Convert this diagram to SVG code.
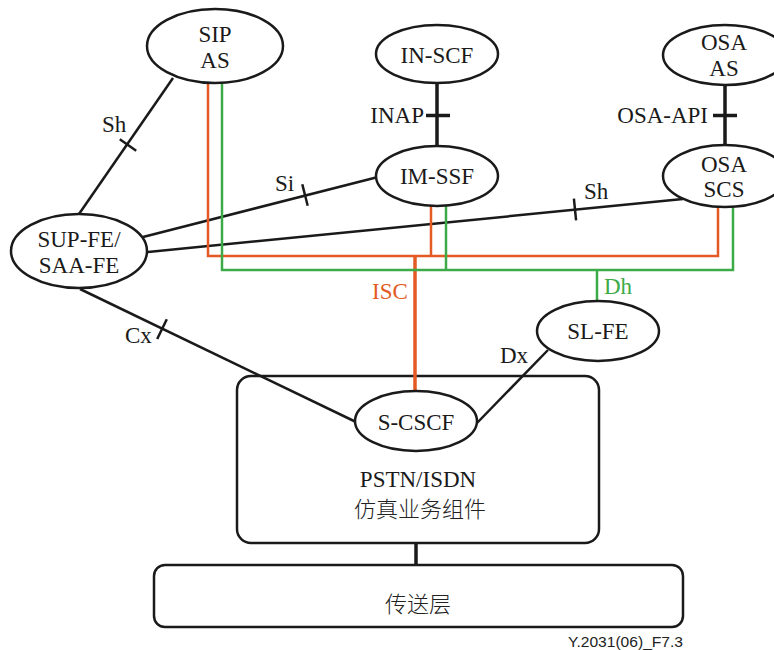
<svg xmlns="http://www.w3.org/2000/svg" width="774" height="650" viewBox="0 0 774 650">
<style>
.n{fill:#fff;stroke:#1a1a1a;stroke-width:2.5}
.b{fill:none;stroke:#1a1a1a;stroke-width:2.5}
.t{font-family:"Liberation Serif","DejaVu Serif","Times New Roman",serif;font-size:23px;fill:#1a1a1a}
.c{text-anchor:middle}
.zh{font-family:"Noto Sans CJK SC","Noto Sans CJK JP",sans-serif;font-size:22px;font-weight:300;fill:#222;text-anchor:middle}
.k{stroke:#1a1a1a;stroke-width:2.5;fill:none}
.kt{stroke:#1a1a1a;stroke-width:3.5;fill:none}
.o{stroke:#E35A25;stroke-width:2.5;fill:none}
.g{stroke:#3DAA48;stroke-width:2.5;fill:none}
</style>
<rect width="774" height="650" fill="#fff"/>
<g id="pstn-box">
  <rect class="b" x="237" y="376" width="362" height="167" rx="14"/>
  <text class="t c" x="418" y="487">PSTN/ISDN</text>
  <text class="zh" x="420" y="517">仿真业务组件</text>
</g>
<g id="transport">
  <rect class="b" x="154" y="565" width="529" height="62" rx="11"/>
  <text class="zh" x="418" y="612">传送层</text>
</g>
<g id="connectors">
  <line class="k" x1="173" y1="78" x2="79" y2="214"/>
  <line class="k" x1="119.8" y1="139.3" x2="136.2" y2="150.7"/>
  <line class="k" x1="143" y1="237" x2="378" y2="177"/>
  <line class="k" x1="302.3" y1="184.3" x2="307.7" y2="205.7"/>
  <line class="k" x1="148" y1="252" x2="683" y2="199"/>
  <line class="k" x1="573.9" y1="198.6" x2="576.1" y2="220.4"/>
  <line class="k" x1="80" y1="289" x2="356" y2="422"/>
  <line class="k" x1="157.2" y1="339" x2="166.8" y2="319.2"/>
  <line class="k" x1="548" y1="350" x2="477" y2="423"/>
  <line class="kt" x1="437" y1="83" x2="437" y2="146"/>
  <line class="kt" x1="426" y1="115.5" x2="450" y2="115.5"/>
  <line class="kt" x1="725" y1="85" x2="725" y2="146"/>
  <line class="kt" x1="713" y1="115.5" x2="737" y2="115.5"/>
  <line class="kt" x1="416" y1="543" x2="416" y2="565"/>
  <polyline class="o" points="208,83 208,256 718,256 718,207"/>
  <line class="o" x1="431" y1="206" x2="431" y2="256"/>
  <line class="o" x1="415" y1="256" x2="415" y2="392" style="stroke-width:3.5"/>
  <polyline class="g" points="222,83 222,270 733,270 733,206"/>
  <line class="g" x1="446" y1="206" x2="446" y2="270"/>
  <line class="g" x1="597" y1="270" x2="597" y2="302"/>
  <text class="t" x="102" y="132">Sh</text>
  <text class="t" x="275" y="191">Si</text>
  <text class="t" x="584" y="199">Sh</text>
  <text class="t" x="125" y="343">Cx</text>
  <text class="t" x="500" y="363">Dx</text>
  <text class="t" x="424" y="123" text-anchor="end">INAP</text>
  <text class="t" x="708" y="123" text-anchor="end">OSA-API</text>
  <text class="t" x="372" y="299" style="fill:#E35A25">ISC</text>
  <text class="t" x="604" y="294" style="fill:#3DAA48">Dh</text>
</g>
<g id="sip-as"><ellipse class="n" cx="215" cy="46" rx="68" ry="37"/><text class="t c" x="215" y="42">SIP</text><text class="t c" x="215" y="68">AS</text></g>
<g id="in-scf"><ellipse class="n" cx="437" cy="54" rx="61" ry="29"/><text class="t c" x="437" y="63">IN-SCF</text></g>
<g id="osa-as"><ellipse class="n" cx="725" cy="55" rx="62" ry="30"/><text class="t c" x="724" y="50">OSA</text><text class="t c" x="724" y="76">AS</text></g>
<g id="im-ssf"><ellipse class="n" cx="437" cy="176" rx="61" ry="30"/><text class="t c" x="437" y="184">IM-SSF</text></g>
<g id="osa-scs"><ellipse class="n" cx="725" cy="176" rx="62" ry="31"/><text class="t c" x="724" y="172">OSA</text><text class="t c" x="724" y="197">SCS</text></g>
<g id="sup-fe"><ellipse class="n" cx="79" cy="251" rx="68" ry="37"/><text class="t c" x="79" y="247">SUP-FE/</text><text class="t c" x="79" y="273">SAA-FE</text></g>
<g id="sl-fe"><ellipse class="n" cx="598" cy="331" rx="61" ry="30"/><text class="t c" x="598" y="339">SL-FE</text></g>
<g id="s-cscf"><ellipse class="n" cx="416" cy="421" rx="61" ry="30"/><text class="t c" x="416" y="430">S-CSCF</text></g>
<text x="683" y="647" text-anchor="end" style="font-family:'Liberation Sans',Arial,sans-serif;font-size:14px;fill:#222" textLength="115" lengthAdjust="spacingAndGlyphs">Y.2031(06)_F7.3</text>
</svg>
